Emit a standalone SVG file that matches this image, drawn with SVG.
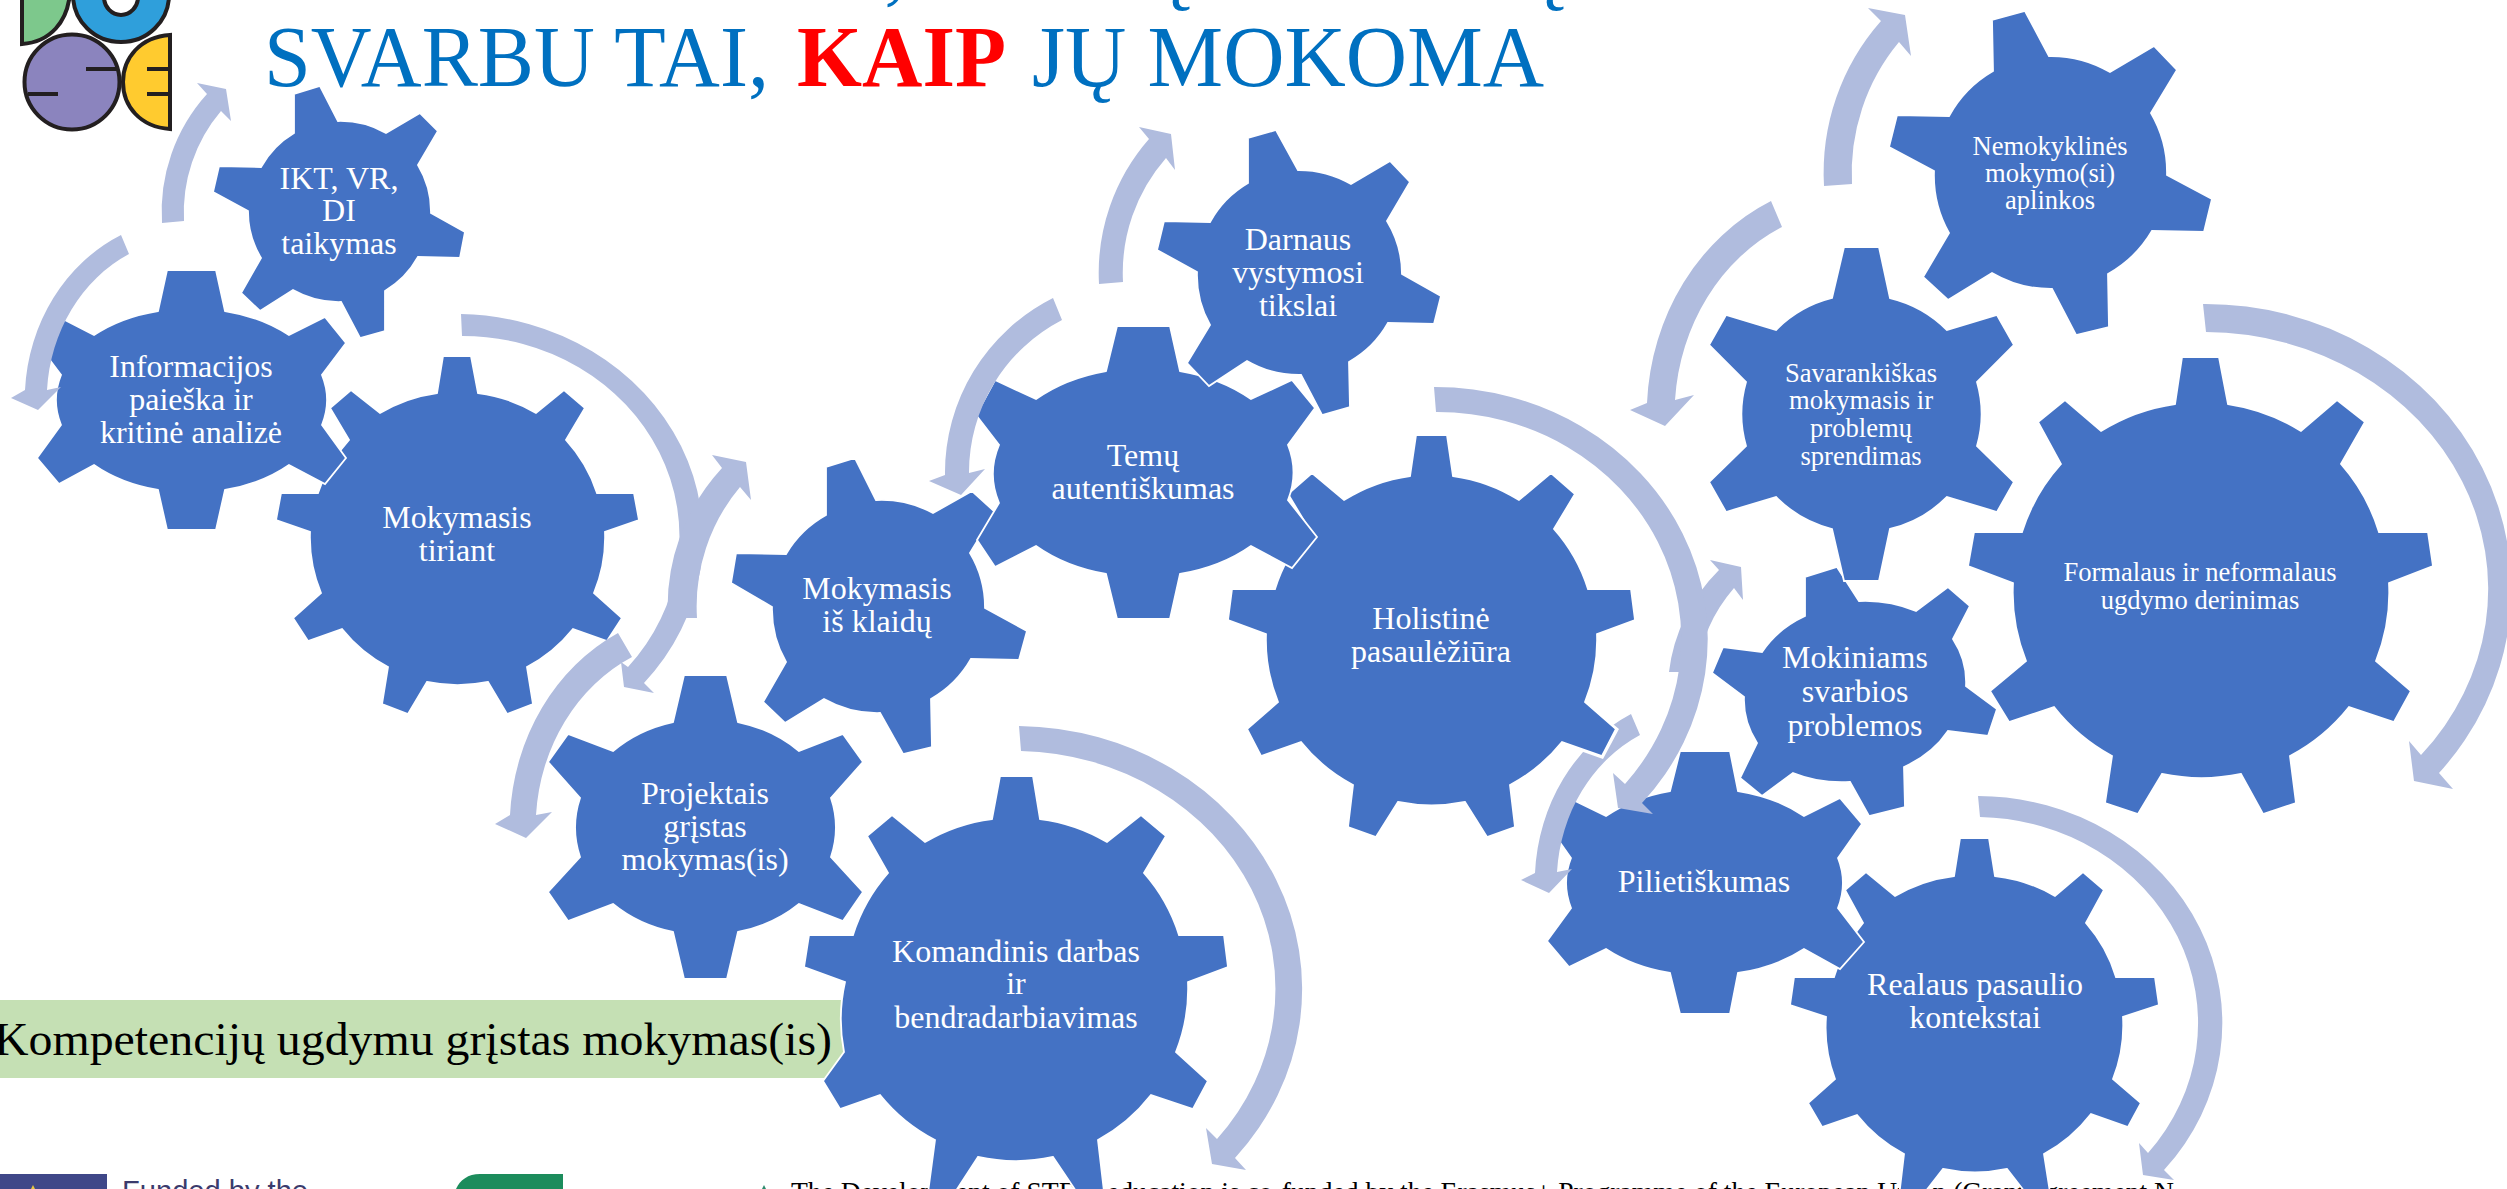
<svg xmlns="http://www.w3.org/2000/svg" width="2507" height="1189" viewBox="0 0 2507 1189">
<style>
text{font-family:"Liberation Serif","Times New Roman",serif}
.gear{fill:#4472C4;stroke:#fff;stroke-width:1.8;stroke-linejoin:miter}
.arrow{fill:#B0BCDE}
.l{fill:#fff;font-size:32px;text-anchor:middle}
.m{fill:#fff;font-size:26.6px;text-anchor:middle}
.title{fill:#0070C0;font-size:86px}
.k{stroke:#231F20;stroke-width:4;fill:none}
.ko{stroke:#231F20;stroke-width:4}
</style>
<defs>
<clipPath id="behindHolistine"><path clip-rule="evenodd" d="M0 0H2507V1189H0Z M1582 699L1619 729L1603 759L1555 742Z"/></clipPath>
</defs>
<rect width="2507" height="1189" fill="#fff"/>
<g id="logo">
<path class="ko" fill="#7DC88C" d="M22 -8V44C50 42 68 22 70 -8Z"/>
<ellipse class="ko" fill="#2F9FDB" cx="121" cy="-5" rx="48" ry="47"/>
<ellipse class="ko" fill="#fff" cx="121" cy="-3" rx="17" ry="18"/>
<ellipse class="ko" fill="#8B84BE" cx="72" cy="82" rx="47.500" ry="47.500"/>
<path class="ko" fill="#FFCB2F" d="M170 35C140 37 123 58 123 82C123 106 140 127 170 129Z"/>
<path class="k" d="M86 69H117M28 94H58M147 69H170M147 94H170"/>
</g>
<g id="title">
<text class="title" x="895" y="-6" text-anchor="middle">,</text>
<text class="title" x="1175" y="-6" text-anchor="middle">Ų</text>
<text class="title" x="1549" y="-6" text-anchor="middle">Ų</text>
<text class="title" x="264" y="86" textLength="505" lengthAdjust="spacingAndGlyphs">SVARBU TAI,</text>
<text class="title" x="797" y="86" textLength="209" lengthAdjust="spacingAndGlyphs" style="fill:#f00;font-weight:bold">KAIP</text>
<text class="title" x="1032" y="86" textLength="512" lengthAdjust="spacingAndGlyphs">JŲ MOKOMA</text>
</g>
<g id="footer">
<rect x="0" y="1174" width="107" height="15" fill="#3F4788"/>
<path d="M33 1185l2 4h-4Z" fill="#E8C840"/>
<text x="122" y="1201" font-size="29" fill="#3B3B6D" style="font-family:'Liberation Sans',Arial,sans-serif" textLength="186" lengthAdjust="spacingAndGlyphs">Funded by the</text>
<path d="M456 1189C460 1180 468 1174 480 1174H563V1189Z" fill="#1C8C5C"/>
<path d="M762 1189l2 -4l2 4Z" fill="#2E8B6E"/>
<text x="791" y="1201" font-size="27" fill="#000" textLength="1383" lengthAdjust="spacingAndGlyphs">The Development of STEM education is co-funded by the Erasmus+ Programme of the European Union (Grant agreement N</text>
</g>
<g id="competence-bar">
<rect x="0" y="1000" width="880" height="78" fill="#C5E0B4"/>
<text x="-6" y="1055" font-size="47" fill="#000" textLength="838" lengthAdjust="spacingAndGlyphs">Kompetencijų ugdymu grįstas mokymas(is)</text>
</g>

<g id="node-mokymasis-tiriant">
<path class="gear" d="M437 393L443 356H471L478 393A148 146 0 0 1 536 413L564 390L585 408L566 440A148 146 0 0 1 597 493H634L639 520L605 532A148 146 0 0 1 594 593L622 618L607 641L573 629A148 146 0 0 1 527 667L533 704L507 714L488 682A148 146 0 0 1 427 682L408 714L382 704L388 667A148 146 0 0 1 342 629L308 641L293 618L321 593A148 146 0 0 1 310 532L276 520L281 493H318A148 146 0 0 1 349 440L330 408L351 390L380 413A148 146 0 0 1 437 393Z"/>
<text class="l" x="457" y="528">Mokymasis</text><text class="l" x="457" y="561">tiriant</text>
</g>
<g id="node-informacijos">
<path class="gear" d="M158 311L167 270H216L225 311A135.500 93 0 0 1 289 335L325 317L346 343L322 375A135.500 93 0 0 1 322 425L346 458L325 484L289 465A135.500 93 0 0 1 225 490L216 530H167L158 490A135.500 93 0 0 1 94 465L59 484L37 458L61 425A135.500 93 0 0 1 61 375L37 343L59 317L94 335A135.500 93 0 0 1 158 311Z"/>
<text class="l" x="191" y="377">Informacijos</text><text class="l" x="191" y="410">paieška ir</text><text class="l" x="191" y="443">kritinė analizė</text>
</g>
<g id="node-ikt">
<path class="gear" d="M294 133V94L320 86L338 121A91.500 90.500 0 0 1 386 133L420 113L438 131L418 165A91.500 90.500 0 0 1 431 213L465 232L460 258L418 257A91.500 90.500 0 0 1 385 291V331L360 338L341 302A91.500 90.500 0 0 1 293 290L260 311L241 293L261 258A91.500 90.500 0 0 1 248 211L213 192L219 166L261 167A91.500 90.500 0 0 1 294 133Z"/>
<text class="l" x="339" y="189">IKT, VR,</text><text class="l" x="339" y="221">DI</text><text class="l" x="339" y="254">taikymas</text>
</g>

<g id="node-komandinis">
<path class="gear" d="M992 819L1000 776H1033L1040 819A172 171 0 0 1 1107 842L1141 815L1166 836L1144 873A172 171 0 0 1 1179 935H1224L1228 967L1188 982A172 171 0 0 1 1176 1052L1208 1081L1193 1109L1151 1095A172 171 0 0 1 1098 1140L1105 1200H1082L1053 1157A172 171 0 0 1 978 1157L950 1200H927L935 1140A172 171 0 0 1 880 1095L840 1109L823 1081L844 1052A172 171 0 0 1 845 982L804 967L809 935H853A172 171 0 0 1 888 873L867 836L892 815L925 842A172 171 0 0 1 992 819Z"/>
<text class="l" x="1016" y="962">Komandinis darbas</text><text class="l" x="1016" y="994">ir</text><text class="l" x="1016" y="1028">bendradarbiavimas</text>
</g>
<g id="node-mokymasis-klaidu">
<path class="gear" d="M826 515V467L855 458L876 500A107 106 0 0 1 933 513L972 491L995 512L970 553A107 106 0 0 1 985 608L1027 631L1019 660L971 659A107 106 0 0 1 931 699L932 747L903 754L880 713A107 106 0 0 1 824 699L785 723L763 702L786 662A107 106 0 0 1 772 607L731 583L736 553L786 554A107 106 0 0 1 826 515Z"/>
<text class="l" x="877" y="599">Mokymasis</text><text class="l" x="877" y="632">iš klaidų</text>
</g>
<g id="node-projektais">
<path class="gear" d="M673 722L684 675H727L738 722A130 109 0 0 1 799 751L843 734L863 762L831 798A130 109 0 0 1 831 857L863 892L843 921L799 904A130 109 0 0 1 738 932L727 979H684L673 932A130 109 0 0 1 613 904L568 921L548 892L580 857A130 109 0 0 1 580 798L548 762L568 734L613 751A130 109 0 0 1 673 722Z"/>
<text class="l" x="705" y="804">Projektais</text><text class="l" x="705" y="837">grįstas</text><text class="l" x="705" y="870">mokymas(is)</text>
</g>

<g id="node-realaus">
<path class="gear" d="M1954 876L1960 838H1989L1995 876A149 147 0 0 1 2055 896L2083 872L2104 890L2086 923A149 147 0 0 1 2116 977H2155L2159 1005L2123 1017A149 147 0 0 1 2113 1079L2141 1103L2128 1127L2091 1114A149 147 0 0 1 2044 1154L2052 1205H2035L2007 1169A149 147 0 0 1 1943 1169L1915 1205H1898L1904 1154A149 147 0 0 1 1857 1115L1822 1127L1808 1103L1835 1079A149 147 0 0 1 1826 1017L1790 1005L1794 977H1834A149 147 0 0 1 1863 923L1845 890L1866 872L1895 896A149 147 0 0 1 1954 876Z"/>
<text class="l" x="1975" y="995">Realaus pasaulio</text><text class="l" x="1975" y="1028">kontekstai</text>
</g>
<g id="node-pilietiskumas">
<path class="gear" d="M1670 791L1680 751H1730L1738 791A138 95 0 0 1 1804 816L1840 798L1862 824L1838 858A138 95 0 0 1 1838 908L1864 942L1840 969L1804 949A138 95 0 0 1 1738 973L1730 1014H1680L1670 973A138 95 0 0 1 1606 949L1569 967L1547 941L1571 908A138 95 0 0 1 1571 858L1547 824L1569 798L1606 816A138 95 0 0 1 1670 791Z"/>
<text class="l" x="1704" y="892">Pilietiškumas</text>
</g>
<g id="node-mokiniams">
<path class="gear" d="M1805 616V577L1837 567L1859 601A111 91 0 0 1 1916 611L1948 587L1970 606L1953 639A111 91 0 0 1 1966 686L1997 709L1988 736L1948 731A111 91 0 0 1 1904 767L1905 807L1869 816L1850 782A111 91 0 0 1 1793 773L1762 796L1740 778L1757 743A111 91 0 0 1 1744 697L1712 673L1723 647L1762 652A111 91 0 0 1 1805 616Z"/>
<text class="l" x="1855" y="668">Mokiniams</text><text class="l" x="1855" y="702">svarbios</text><text class="l" x="1855" y="736">problemos</text>
</g>

<g id="node-holistine">
<path class="gear" d="M1410 476L1416 435H1447L1453 476A166 165 0 0 1 1519 500L1551 473L1575 494L1554 529A166 165 0 0 1 1588 589H1631L1635 620L1597 634A166 165 0 0 1 1585 702L1616 729L1602 756L1562 742A166 165 0 0 1 1510 785L1515 827L1487 837L1465 802A166 165 0 0 1 1398 802L1376 837L1348 827L1353 785A166 165 0 0 1 1301 742L1261 756L1247 729L1278 702A166 165 0 0 1 1266 634L1228 620L1232 589H1275A166 165 0 0 1 1309 529L1288 494L1312 473L1344 500A166 165 0 0 1 1410 476Z"/>
<text class="l" x="1431" y="629">Holistinė</text><text class="l" x="1431" y="662">pasaulėžiūra</text>
</g>
<g id="node-temu">
<path class="gear" d="M1106 371L1117 326H1170L1180 371A149 103 0 0 1 1251 399L1292 380L1315 408L1288 445A149 103 0 0 1 1288 500L1317 537L1292 568L1251 546A149 103 0 0 1 1180 574L1170 619H1117L1106 574A149 103 0 0 1 1036 546L995 567L977 540L999 503A149 103 0 0 1 999 445L976 415L995 380L1036 399A149 103 0 0 1 1106 371Z"/>
<text class="l" x="1143" y="466">Temų</text><text class="l" x="1143" y="499">autentiškumas</text>
</g>
<g id="node-darnaus">
<path class="gear" d="M1248 183V138L1276 130L1298 170A103 102 0 0 1 1351 184L1390 161L1410 182L1387 221A103 102 0 0 1 1402 274L1441 296L1434 324L1388 323A103 102 0 0 1 1349 362L1350 407L1322 415L1301 375A103 102 0 0 1 1247 361L1209 386L1187 363L1210 325A103 102 0 0 1 1197 272L1157 250L1164 221L1210 222A103 102 0 0 1 1248 183Z"/>
<text class="l" x="1298" y="250">Darnaus</text><text class="l" x="1298" y="283">vystymosi</text><text class="l" x="1298" y="316">tikslai</text>
</g>

<g id="node-formalaus">
<path class="gear" d="M2175 404L2182 357H2219L2228 404A188 185 0 0 1 2301 431L2337 400L2365 422L2341 464A188 185 0 0 1 2379 532H2428L2433 566L2389 583A188 185 0 0 1 2376 661L2411 691L2394 722L2349 707A188 185 0 0 1 2290 756L2296 803L2263 814L2241 774A188 185 0 0 1 2162 774L2138 814L2105 803L2112 756A188 185 0 0 1 2054 707L2009 722L1990 691L2026 661A188 185 0 0 1 2013 583L1968 566L1974 532H2022A188 185 0 0 1 2061 464L2038 422L2065 400L2101 431A188 185 0 0 1 2175 404Z"/>
<text class="m" x="2200" y="581">Formalaus ir neformalaus</text><text class="m" x="2200" y="609">ugdymo derinimas</text>
</g>
<g id="node-savarankiskas">
<path class="gear" d="M1832 298L1844 247H1879L1890 298A119 117 0 0 1 1947 330L1997 315L2014 345L1977 382A119 117 0 0 1 1977 446L2014 482L1997 512L1947 497A119 117 0 0 1 1890 529L1879 581H1844L1832 529A119 117 0 0 1 1776 497L1726 512L1709 482L1746 446A119 117 0 0 1 1746 382L1709 345L1726 315L1776 330A119 117 0 0 1 1832 298Z"/>
<text class="m" x="1861" y="382">Savarankiškas</text><text class="m" x="1861" y="409">mokymasis ir</text><text class="m" x="1861" y="437">problemų</text><text class="m" x="1861" y="465">sprendimas</text>
</g>
<g id="node-nemokyklines">
<path class="gear" d="M1993 71L1992 20L2025 11L2049 56A116.500 117 0 0 1 2110 72L2154 46L2177 70L2151 113A116.500 117 0 0 1 2167 175L2212 199L2204 232L2152 231A116.500 117 0 0 1 2108 274L2109 327L2076 335L2052 289A116.500 117 0 0 1 1992 273L1948 300L1923 277L1949 233A116.500 117 0 0 1 1934 171L1889 147L1897 115L1949 116A116.500 117 0 0 1 1993 71Z"/>
<text class="m" x="2050" y="155">Nemokyklinės</text><text class="m" x="2050" y="182">mokymo(si)</text><text class="m" x="2050" y="209">aplinkos</text>
</g>

<g id="connectors">
<path class="arrow" d="M461 314A247 224 0 0 1 644 683L654 693L624 687L621 662L628 667A217 201 0 0 0 462 336Z"/>
<path class="arrow" d="M121 235A167 182 0 0 0 25 390L11 398L38 410L61 387L47 390A144 162 0 0 1 129 254Z"/>
<path class="arrow" d="M162 223A177 176 0 0 1 207 94L197 83L226 89L231 121L221 111A155 156 0 0 0 184 221Z"/>
<path class="arrow" d="M1019 726A287 263 0 0 1 1235 1158L1246 1170L1212 1164L1206 1128L1217 1139A261 238 0 0 0 1021 751Z"/>
<path class="arrow" d="M618 633A195 217 0 0 0 510 815L495 824L526 838L552 812L536 815A169 189 0 0 1 632 657Z"/>
<path class="arrow" d="M668 618A210 206 0 0 1 722 468L712 455L746 462L751 500L740 487A181 184 0 0 0 697 618Z"/>
<path class="arrow" d="M1978 796A245 227 0 0 1 2164 1170L2174 1180L2143 1175L2139 1143L2148 1153A223 206 0 0 0 1980 817Z"/>
<path class="arrow" clip-path="url(#behindHolistine)" d="M1631 714A170 187 0 0 0 1535 873L1521 880L1549 893L1572 869L1557 872A148 164 0 0 1 1640 735Z"/>
<path class="arrow" d="M1669 672A187 176 0 0 1 1719 570L1710 560L1741 567L1743 600L1734 588A160 157 0 0 0 1697 672Z"/>
<path class="arrow" d="M1434 387A273 252 0 0 1 1642 803L1653 814L1618 808L1613 773L1625 784A244 227 0 0 0 1436 412Z"/>
<path class="arrow" d="M1053 298A198 196 0 0 0 945 475L929 481L961 495L985 469L969 473A174 172 0 0 1 1062 320Z"/>
<path class="arrow" d="M1099 284A200 202 0 0 1 1149 139L1139 127L1171 134L1175 170L1166 158A176 175 0 0 0 1123 282Z"/>
<path class="arrow" d="M2203 304A306 285 0 0 1 2439 773L2453 789L2414 781L2409 741L2421 755A284 257 0 0 0 2206 332Z"/>
<path class="arrow" d="M1771 201A214 235 0 0 0 1647 403L1630 410L1665 426L1694 395L1675 400A186 207 0 0 1 1782 227Z"/>
<path class="arrow" d="M1824 186A226 228 0 0 1 1881 21L1868 8L1905 15L1911 56L1899 42A198 202 0 0 0 1852 184Z"/>
</g>
</svg>
